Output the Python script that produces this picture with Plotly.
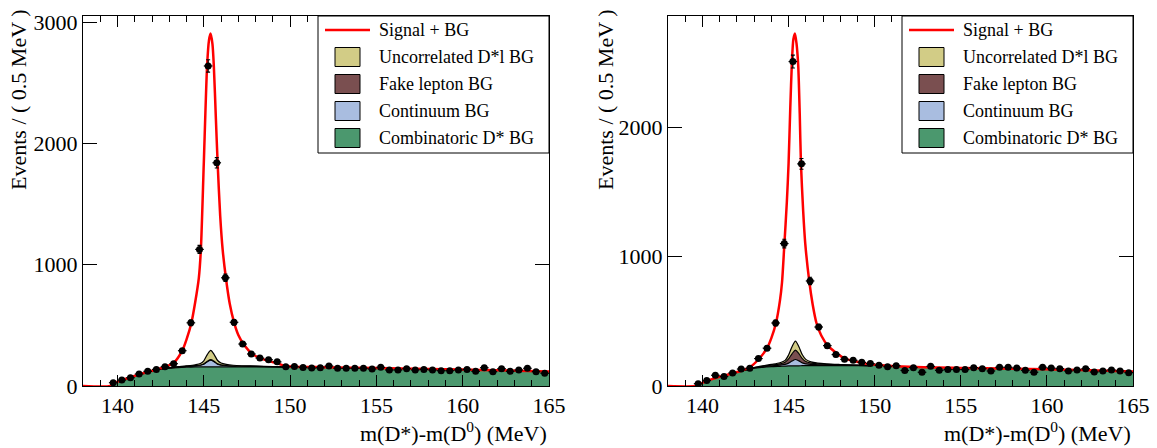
import numpy as np
import plotly.graph_objects as go

W, H = 1157, 448

# ---------------- data ----------------
BIN_CENTERS = [139.75, 140.25, 140.75, 141.25, 141.75, 142.25, 142.75, 143.25, 143.75, 144.25,
               144.75, 145.25, 145.75, 146.25, 146.75, 147.25, 147.75, 148.25, 148.75, 149.25,
               149.75, 150.25, 150.75, 151.25, 151.75, 152.25, 152.75, 153.25, 153.75, 154.25,
               154.75, 155.25, 155.75, 156.25, 156.75, 157.25, 157.75, 158.25, 158.75, 159.25,
               159.75, 160.25, 160.75, 161.25, 161.75, 162.25, 162.75, 163.25, 163.75, 164.25,
               164.75]

LEFT_COUNTS = [27, 49, 68, 99, 121, 137, 159, 184, 291, 521,
               1126, 2638, 1840, 892, 525, 346, 264, 230, 217, 199,
               158, 160, 153, 148, 150, 165, 146, 146, 146, 146,
               140, 154, 132, 132, 143, 132, 137, 132, 126, 126,
               132, 137, 121, 151, 118, 143, 121, 132, 146, 118,
               105]
RIGHT_COUNTS = [18, 42, 83, 73, 101, 131, 137, 212, 292, 487,
                1101, 2508, 1717, 812, 456, 312, 243, 206, 199, 183,
                173, 160, 149, 157, 120, 142, 106, 152, 121, 127,
                127, 127, 142, 134, 116, 145, 145, 139, 121, 106,
                145, 139, 134, 116, 124, 134, 108, 116, 124, 116,
                103]

FIT_X_LEFT = [138.0, 139.57, 139.75, 140.25, 140.75, 141.25, 141.75, 142.25, 142.75, 143.25,
              143.75, 144.0, 144.28, 144.5, 144.71, 144.83, 145.0, 145.19, 145.3, 145.39,
              145.5, 145.58, 145.7, 145.8, 145.95, 146.09, 146.28, 146.5, 146.76, 147.0,
              147.3, 147.8, 148.3, 148.8, 149.3, 149.65, 150.25, 152.0, 155.0, 158.0,
              160.0, 162.0, 165.0]
FIT_Y_LEFT = [0, 0, 22, 47, 72, 95, 115, 135, 158, 190,
              291, 385, 520, 690, 890, 1126, 1840, 2638, 2850, 2905,
              2820, 2638, 2200, 1840, 1400, 1126, 890, 680, 520, 420,
              346, 265, 228, 205, 185, 167, 158, 155, 148, 141,
              135, 129, 120]

FIT_X_RIGHT = [138.0, 139.57, 139.75, 140.25, 140.75, 141.25, 141.75, 142.25, 142.75, 143.25,
               143.75, 144.0, 144.27, 144.5, 144.62, 144.75, 144.9, 145.0, 145.1, 145.2,
               145.28, 145.37, 145.46, 145.56, 145.65, 145.72, 145.85, 145.97, 146.2, 146.4,
               146.62, 146.9, 147.28, 147.78, 148.27, 148.75, 149.23, 149.75, 150.4, 152.0,
               155.0, 158.0, 160.0, 162.0, 165.0]
FIT_Y_RIGHT = [0, 0, 12, 38, 62, 80, 98, 118, 145, 205,
               292, 370, 487, 660, 800, 1080, 1420, 1717, 2150, 2520,
               2680, 2725, 2650, 2480, 2100, 1717, 1350, 1101, 812, 630,
               487, 390, 312, 255, 212, 195, 180, 168, 160, 148,
               140, 134, 130, 123, 112]

# combinatoric D* background
BG_X = [139.57, 139.75, 140.0, 140.5, 141.0, 141.5, 142.0, 142.4, 143.0, 143.5,
        144.0, 144.5, 144.8, 145.0, 145.2, 145.4, 145.6, 145.8, 146.0, 146.3,
        146.7, 147.2, 148.0, 149.0, 149.7, 150.5, 152.0, 154.0, 156.0, 158.0,
        160.0, 162.0, 164.0, 165.0]
COMB_LEFT = [0, 20, 35, 60, 85, 107, 126, 137, 147, 152,
             155, 157, 158, 158, 158, 158, 158, 158, 158, 158,
             158, 158, 158, 158, 157, 156, 152, 149, 145, 139,
             133, 127, 121, 117]
COMB_RIGHT = [0, 8, 18, 42, 68, 86, 106, 120, 137, 144,
              149, 152, 154, 155, 155, 156, 156, 157, 157, 157,
              158, 158, 158, 158, 157, 154, 146, 141, 137, 132,
              128, 121, 112, 108]

# peaking background components (own contribution)
COMP_X = [142.4, 143.0, 143.5, 144.0, 144.5, 144.8, 145.0, 145.2, 145.4, 145.6,
          145.8, 146.0, 146.3, 146.7, 147.2, 148.0, 149.0, 149.7]
CONT_LEFT = [0, 2, 4, 6, 9, 13, 22, 42, 55, 42, 22, 14, 9, 6, 4, 3, 1, 0]
FAKE_LEFT = [0, 1, 1, 1, 2, 2, 3, 4, 5, 4, 3, 2, 2, 1, 1, 1, 0, 0]
UNCORR_LEFT = [0, 1, 2, 4, 7, 12, 25, 55, 75, 55, 27, 15, 9, 6, 4, 2, 1, 0]
CONT_RIGHT = [0, 2, 4, 6, 9, 13, 22, 38, 49, 38, 22, 14, 9, 6, 4, 3, 1, 0]
FAKE_RIGHT = [0, 2, 4, 6, 10, 16, 32, 56, 72, 56, 32, 18, 11, 7, 5, 3, 1, 0]
UNCORR_RIGHT = [0, 2, 4, 6, 9, 15, 30, 54, 70, 54, 30, 17, 10, 6, 4, 2, 1, 0]

X_TICKS = [140, 145, 150, 155, 160, 165]
X_TICK_LABELS = ["140", "145", "150", "155", "160", "165"]
Y_TICKS_LEFT = [0, 1000, 2000, 3000]
Y_TICK_LABELS_LEFT = ["0", "1000", "2000", "3000"]
Y_TICKS_RIGHT = [0, 1000, 2000]
Y_TICK_LABELS_RIGHT = ["0", "1000", "2000"]

LEGEND_LABELS = ["Signal + BG", "Uncorrelated D*l BG", "Fake lepton BG",
                 "Continuum BG", "Combinatoric D* BG"]

# ---------------- style ----------------
FONT = "Liberation Serif"
C_RED = "#ff0000"
C_UNCORR = "#d2cc86"
C_FAKE = "#7a4f50"
C_CONT = "#a9bde0"
C_COMB = "#4b986e"
LEG_COLORS = [C_UNCORR, C_FAKE, C_CONT, C_COMB]


def pxx(p):
    return p / W


def pxy(p):
    return 1 - p / H


fig = go.Figure()

panels = [
    dict(xa="x", ya="y", counts=LEFT_COUNTS, fx=FIT_X_LEFT, fy=FIT_Y_LEFT,
         comb=COMB_LEFT, cont=CONT_LEFT, fake=FAKE_LEFT, unc=UNCORR_LEFT,
         left=83, right=549, ymax=3050, yt=Y_TICKS_LEFT, ytl=Y_TICK_LABELS_LEFT, ytx=18),
    dict(xa="x2", ya="y2", counts=RIGHT_COUNTS, fx=FIT_X_RIGHT, fy=FIT_Y_RIGHT,
         comb=COMB_RIGHT, cont=CONT_RIGHT, fake=FAKE_RIGHT, unc=UNCORR_RIGHT,
         left=668, right=1133, ymax=2860, yt=Y_TICKS_RIGHT, ytl=Y_TICK_LABELS_RIGHT, ytx=605),
]

SM = 0.8
shapes = []
annotations = []
for i, p in enumerate(panels):
    xa, ya = p["xa"], p["ya"]
    # combinatoric background
    fig.add_trace(go.Scatter(x=BG_X, y=p["comb"], mode="lines", fill="tozeroy",
                             fillcolor=C_COMB, line=dict(color=C_COMB, width=0.5, shape="spline", smoothing=SM),
                             xaxis=xa, yaxis=ya, hoverinfo="skip"))
    base = np.array([p["comb"][BG_X.index(x)] for x in COMP_X], dtype=float)
    cum1 = base + np.array(p["cont"])
    cum2 = cum1 + np.array(p["fake"])
    cum3 = cum2 + np.array(p["unc"])
    fig.add_trace(go.Scatter(x=COMP_X, y=base, mode="lines",
                             line=dict(color="black", width=1.2, shape="spline", smoothing=SM),
                             xaxis=xa, yaxis=ya, hoverinfo="skip"))
    for yy, col in [(cum1, C_CONT), (cum2, C_FAKE), (cum3, C_UNCORR)]:
        fig.add_trace(go.Scatter(x=COMP_X, y=yy, mode="lines", fill="tonexty", fillcolor=col,
                                 line=dict(color="black", width=1.2, shape="spline", smoothing=SM),
                                 xaxis=xa, yaxis=ya, hoverinfo="skip"))
    # total fit
    fig.add_trace(go.Scatter(x=p["fx"], y=p["fy"], mode="lines",
                             line=dict(color=C_RED, width=2.5, shape="spline", smoothing=0.7),
                             xaxis=xa, yaxis=ya, hoverinfo="skip"))
    # data
    cnt = np.array(p["counts"], dtype=float)
    fig.add_trace(go.Scatter(x=BIN_CENTERS, y=cnt, mode="markers",
                             marker=dict(color="black", size=7),
                             error_y=dict(type="data", array=np.sqrt(cnt), color="black", thickness=1.2, width=2),
                             error_x=dict(type="constant", value=0.25, color="black", thickness=1.2, width=0),
                             xaxis=xa, yaxis=ya, hoverinfo="skip"))

    # manual legend
    R = p["right"]
    shapes.append(dict(type="rect", xref="paper", yref="paper",
                       x0=pxx(R - 231), x1=pxx(R), y0=pxy(153), y1=pxy(16),
                       line=dict(color="black", width=1), fillcolor="white", layer="above"))
    rows = [30, 57, 84, 111, 138]
    shapes.append(dict(type="line", xref="paper", yref="paper",
                       x0=pxx(R - 224), x1=pxx(R - 179), y0=pxy(rows[0]), y1=pxy(rows[0]),
                       line=dict(color=C_RED, width=2.5), layer="above"))
    for r, col in zip(rows[1:], LEG_COLORS):
        shapes.append(dict(type="rect", xref="paper", yref="paper",
                           x0=pxx(R - 214), x1=pxx(R - 189), y0=pxy(r + 9.5), y1=pxy(r - 9.5),
                           line=dict(color="black", width=1), fillcolor=col, layer="above"))
    for r, lab in zip(rows, LEGEND_LABELS):
        annotations.append(dict(xref="paper", yref="paper", x=pxx(R - 172), y=pxy(r),
                                xanchor="left", yanchor="middle", text=lab, showarrow=False,
                                font=dict(family=FONT, size=18, color="black")))
    # axis titles
    annotations.append(dict(xref="paper", yref="paper", x=pxx(R), y=pxy(432),
                            xanchor="right", yanchor="middle", showarrow=False,
                            text="m(D*)-m(D<sup>0</sup>) (MeV)",
                            font=dict(family=FONT, size=22, color="black")))
    annotations.append(dict(xref="paper", yref="paper", x=pxx(p["ytx"]), y=pxy(192),
                            xanchor="center", yanchor="bottom", showarrow=False, textangle=-90,
                            text="Events / ( 0.5 MeV )",
                            font=dict(family=FONT, size=22, color="black")))

    axis_common = dict(showline=True, linecolor="black", linewidth=1, mirror="allticks",
                       ticks="inside", tickcolor="black", showgrid=False, zeroline=False,
                       automargin=False,
                       tickfont=dict(family=FONT, size=22, color="black"))
    xkey = "xaxis" if i == 0 else "xaxis2"
    ykey = "yaxis" if i == 0 else "yaxis2"
    fig.update_layout(**{
        xkey: dict(domain=[pxx(p["left"]), pxx(R)], range=[138, 165], anchor=ya,
                   tickmode="array", tickvals=X_TICKS, ticktext=X_TICK_LABELS, ticklen=11,
                   minor=dict(tick0=140, dtick=1, ticks="inside", ticklen=6, tickcolor="black"),
                   **axis_common),
        ykey: dict(domain=[pxy(386), pxy(16)], range=[0, p["ymax"]], anchor=xa,
                   tickmode="array", tickvals=p["yt"], ticktext=p["ytl"], ticklen=14,
                   **axis_common),
    })

fig.update_layout(width=W, height=H, autosize=False, margin=dict(l=0, r=0, t=0, b=0, pad=0),
                  paper_bgcolor="white", plot_bgcolor="white", showlegend=False,
                  font=dict(family=FONT, color="black"),
                  shapes=shapes, annotations=annotations)

fig.write_html("out.html", config={"displayModeBar": False},
               post_script="document.body.style.margin='0px';")
